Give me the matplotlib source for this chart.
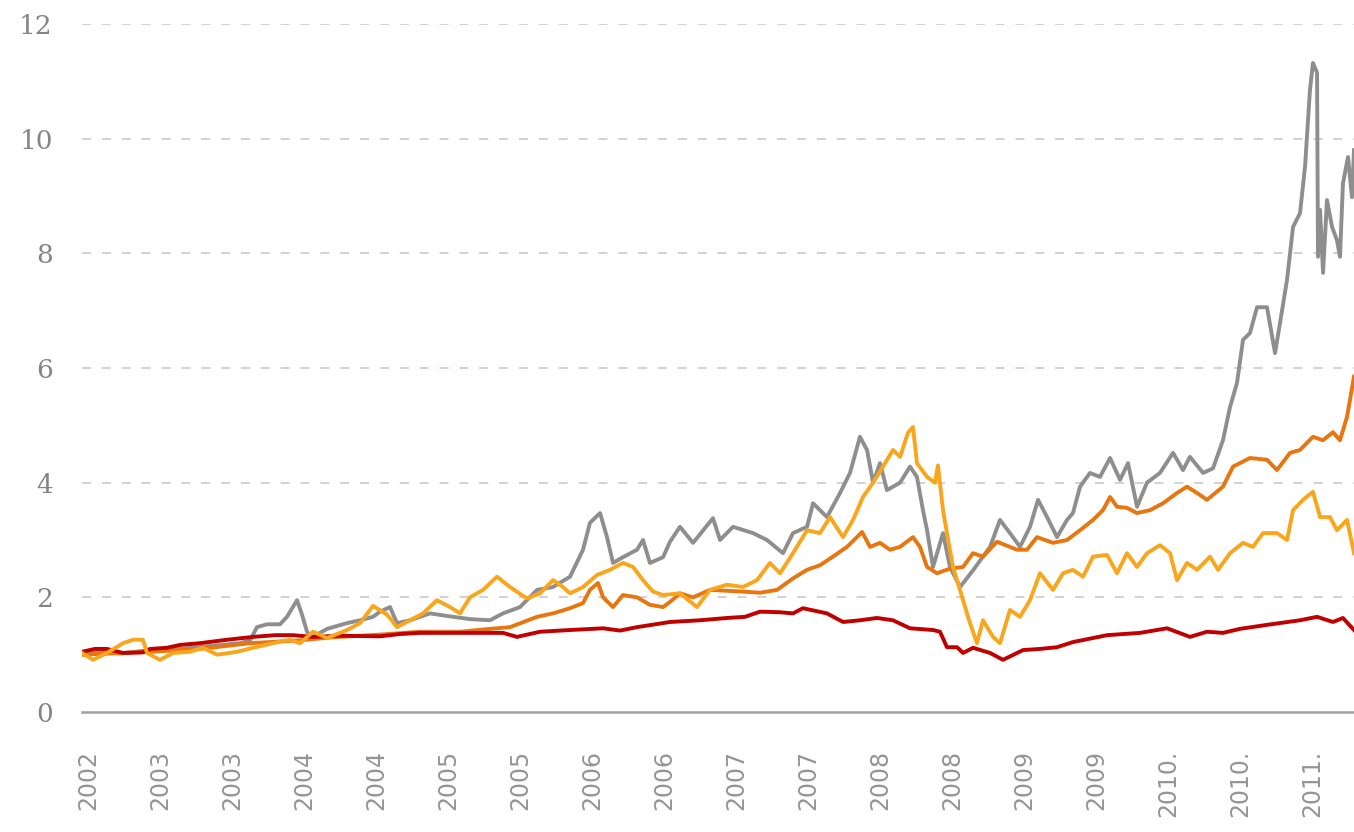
import matplotlib
matplotlib.use("Agg")
import matplotlib.pyplot as plt

# time axis: months since mid-June 2002
tick_months = [0.5 + 6 * k for k in range(18)]
tick_labels = ["2002", "2003", "2003", "2004", "2004", "2005", "2005", "2006", "2006",
               "2007", "2007", "2008", "2008", "2009", "2009", "2010.", "2010.", "2011."]

gray_t = [0, 1.5, 3.17, 5.67, 8.17, 10.67, 13.17, 14, 14.58, 15.42, 16.5, 17.08, 17.92, 18.33,
          18.75, 19.17, 20.42, 22.08, 23.17, 24.25, 24.83, 25.67, 26.25, 27.33, 29, 30.92, 32.33,
          34, 35.08, 36.5, 37.92, 39.25, 40.67, 41.75, 42.33, 43.17, 43.75, 44.25, 45.08, 46.25,
          46.75, 47.33, 48.42, 49, 49.83, 50.92, 52.58, 53.17, 54.25, 55.92, 57.08, 58.42, 59.25,
          60.42, 60.92, 62.08, 63.17, 64, 64.83, 65.42, 65.92, 66.5, 67.08, 68.17, 69, 69.58,
          70.08, 70.42, 70.92, 71.75, 72.33, 73.17, 74.25, 75.67, 76.5, 77.33, 78.17, 79, 79.67,
          80.42, 81.25, 82.08, 82.58, 83.17, 84, 84.83, 85.67, 86.5, 87.17, 87.92, 88.75, 89.83,
          90.92, 91.75, 92.33, 93.42, 94.25, 95.08, 95.67, 96.25, 96.75, 97.33, 97.92, 98.75,
          99.42, 99.83, 100.42, 100.92, 101.5, 101.92, 102.33, 102.58, 102.92, 103, 103.17,
          103.42, 103.75, 104.17, 104.58, 104.83, 105.08, 105.5, 105.83, 106]
gray_v = [1.0, 1.05, 1.02, 1.08, 1.10, 1.15, 1.20, 1.25, 1.48, 1.53, 1.53, 1.66, 1.95, 1.7,
          1.4, 1.3, 1.45, 1.55, 1.6, 1.66, 1.75, 1.83, 1.55, 1.6, 1.72, 1.66, 1.62,
          1.60, 1.72, 1.83, 2.13, 2.18, 2.36, 2.83, 3.3, 3.47, 3.05, 2.6, 2.7, 2.83,
          3.0, 2.6, 2.7, 2.97, 3.23, 2.95, 3.38, 3.0, 3.23, 3.12, 3.0, 2.77, 3.12,
          3.23, 3.64, 3.4, 3.82, 4.17, 4.8, 4.57, 4.0, 4.34, 3.87, 4.0, 4.28, 4.1,
          3.52, 3.17, 2.53, 3.12, 2.53, 2.18, 2.47, 2.88, 3.35, 3.12, 2.88, 3.23, 3.70,
          3.40, 3.05, 3.35, 3.47, 3.93, 4.17, 4.1, 4.43, 4.05, 4.34, 3.58, 4.0, 4.17,
          4.52, 4.22, 4.45, 4.17, 4.25, 4.74, 5.32, 5.74, 6.49, 6.61, 7.06, 7.06,
          6.26, 6.78, 7.54, 8.46, 8.70, 9.51, 10.85, 11.32, 11.15, 7.94, 8.76,
          7.66, 8.93, 8.46, 8.23, 7.94, 9.22, 9.68, 8.98, 9.8]

orange_t = [0, 5.67, 9.83, 14, 18.17, 20.67, 24.83, 28.17, 31.5, 34, 35.67, 37.92, 39.25, 40.67,
            41.75, 42.33, 43, 43.42, 44.25, 45.08, 46.25, 47.33, 48.42, 49, 49.83, 50.92, 52.33,
            55.08, 56.5, 57.92, 59.25, 60.42, 61.5, 62.58, 63.75, 64.58, 65, 65.67, 66.5, 67.33,
            68.17, 69.25, 69.83, 70.42, 71.25, 72.33, 73.42, 74.25, 75.08, 76.25, 77.92, 78.75,
            79.58, 80.92, 82.08, 83.17, 84.25, 85.08, 85.67, 86.25, 87.08, 87.92, 89, 90.08,
            91.25, 92.08, 92.92, 93.75, 95.08, 95.92, 97.33, 98.75, 99.58, 100.67, 101.5, 102.58,
            103.42, 104.25, 104.83, 105.42, 106]
orange_v = [1.0, 1.05, 1.1, 1.2, 1.25, 1.3, 1.35, 1.4, 1.4, 1.45, 1.48, 1.66, 1.72, 1.81,
            1.90, 2.13, 2.25, 2.0, 1.83, 2.04, 2.0, 1.87, 1.83, 1.92, 2.07, 2.0, 2.13,
            2.1, 2.08, 2.13, 2.33, 2.48, 2.56, 2.71, 2.88, 3.05, 3.14, 2.88, 2.95, 2.83,
            2.88, 3.05, 2.88, 2.53, 2.42, 2.5, 2.53, 2.77, 2.71, 2.97, 2.83, 2.83,
            3.05, 2.95, 3.0, 3.17, 3.35, 3.52, 3.75, 3.58, 3.56, 3.47, 3.52, 3.64,
            3.82, 3.93, 3.82, 3.70, 3.93, 4.28, 4.43, 4.40, 4.22, 4.52, 4.57, 4.80,
            4.74, 4.88, 4.74, 5.15, 5.85]

amber_t = [0, 0.92, 2.08, 3.42, 4.25, 5.08, 5.42, 6.5, 7.58, 9, 10.08, 11.25, 12.92, 14.25,
           15.92, 17.33, 18.17, 19.25, 20.42, 22.08, 23.17, 24.25, 25.42, 26.25, 27.33, 28.42,
           29.58, 30.67, 31.5, 32.33, 33.42, 34.58, 35.67, 37.08, 38.17, 39.25, 40.08, 40.67,
           41.75, 42.92, 44, 45.08, 45.92, 46.75, 47.58, 48.42, 49.83, 51.25, 52.33, 53.75,
           55.08, 56.25, 57.33, 58.17, 59.25, 60.42, 61.5, 62.33, 63.42, 64.25, 65.08, 65.92,
           66.75, 67.58, 68.17, 68.83, 69.25, 69.58, 70.42, 71.08, 71.33, 71.75, 72.08, 72.58,
           73.42, 74, 74.58, 75.08, 75.92, 76.5, 77.33, 78.17, 79, 79.83, 80.92, 81.75, 82.58,
           83.42, 84.25, 85.42, 86.25, 87.08, 87.92, 88.75, 89.83, 90.67, 91.25, 92.08, 92.92,
           94, 94.67, 95.67, 96.75, 97.58, 98.42, 99.58, 100.42, 100.92, 101.75, 102.58, 103.17,
           104, 104.58, 105.42, 106]
amber_v = [1.03, 0.91, 1.03, 1.2, 1.26, 1.26, 1.03, 0.91, 1.03, 1.05, 1.12, 1.0, 1.05, 1.12,
           1.2, 1.26, 1.2, 1.40, 1.29, 1.43, 1.55, 1.85, 1.70, 1.48, 1.6, 1.72,
           1.95, 1.83, 1.72, 2.0, 2.13, 2.36, 2.18, 1.98, 2.07, 2.30, 2.18, 2.07,
           2.18, 2.39, 2.48, 2.6, 2.53, 2.3, 2.1, 2.04, 2.07, 1.83, 2.13, 2.22,
           2.18, 2.30, 2.6, 2.42, 2.77, 3.17, 3.12, 3.40, 3.05, 3.35, 3.75, 4.0,
           4.28, 4.57, 4.45, 4.87, 4.97, 4.34, 4.1, 4.0, 4.3, 3.52, 3.12, 2.53,
           1.95, 1.55, 1.2, 1.6, 1.31, 1.2, 1.78, 1.66, 1.95, 2.42, 2.13, 2.42, 2.48,
           2.36, 2.71, 2.74, 2.42, 2.77, 2.53, 2.77, 2.91, 2.77, 2.30, 2.6, 2.48,
           2.71, 2.48, 2.77, 2.95, 2.88, 3.12, 3.12, 3.0, 3.52, 3.70, 3.84, 3.40,
           3.40, 3.17, 3.35, 2.77]

red_t = [0, 1.08, 2.08, 3.42, 5.08, 5.67, 7.08, 8.17, 9.83, 12.08, 14.25, 16.08, 17.58, 19.25,
         21.5, 24.83, 26.5, 28.17, 31.5, 35.08, 36.25, 38.17, 40.67, 43.42, 44.83, 46.25, 49,
         51.5, 53.75, 55.25, 56.5, 58.17, 59.25, 60.08, 62.08, 63.42, 64.83, 66.25, 67.58, 69,
         70.92, 71.5, 72.08, 72.92, 73.42, 74.25, 75.67, 76.75, 78.42, 79.83, 81.25, 82.58, 84,
         85.42, 88.17, 90.42, 92.33, 93.75, 95.08, 96.5, 98.75, 101.5, 102.92, 104.25, 105.08, 106]
red_v = [1.05, 1.10, 1.10, 1.03, 1.04, 1.10, 1.12, 1.17, 1.20, 1.26, 1.31, 1.34, 1.34, 1.31,
         1.33, 1.32, 1.36, 1.38, 1.38, 1.38, 1.31, 1.40, 1.43, 1.46, 1.42, 1.48, 1.57,
         1.60, 1.64, 1.66, 1.75, 1.74, 1.72, 1.81, 1.72, 1.57, 1.60, 1.64, 1.60, 1.46,
         1.43, 1.40, 1.13, 1.13, 1.03, 1.12, 1.03, 0.91, 1.08, 1.10, 1.13, 1.22, 1.28,
         1.34, 1.38, 1.46, 1.31, 1.40, 1.38, 1.45, 1.52, 1.60, 1.66, 1.57, 1.64, 1.43]

y_ticks = [0, 2, 4, 6, 8, 10, 12]

W, H = 1354, 832
fig = plt.figure(figsize=(W / 100, H / 100), dpi=100)
ax = fig.add_axes([82 / W, 1 - 712 / H, 1 - 82 / W, (712 - 24) / H])

lw = 2.8
ax.plot(gray_t, gray_v, color="#8E8E8E", lw=lw, zorder=3)
ax.plot(orange_t, orange_v, color="#E8760F", lw=lw, zorder=4)
ax.plot(red_t, red_v, color="#C00000", lw=lw, zorder=5)
ax.plot(amber_t, amber_v, color="#F9A61C", lw=lw, zorder=6)

ax.set_xlim(0, 106)
ax.set_ylim(0, 12)
ax.set_yticks(y_ticks)
ax.set_yticklabels([str(v) for v in y_ticks], family="DejaVu Serif", fontsize=19, color="#858585")
ax.set_xticks(tick_months)
ax.set_xticklabels(tick_labels, rotation=90, family="DejaVu Sans", fontsize=17,
                   color="#959595", va="top", ha="center")
ax.tick_params(axis="both", length=0)
ax.tick_params(axis="y", pad=21)
ax.tick_params(axis="x", pad=27)

for v in y_ticks[1:]:
    ax.axhline(v, color="#CFCFCF", lw=1.3, ls=(0, (5, 6)), zorder=1)

for s in ["top", "right", "left"]:
    ax.spines[s].set_visible(False)
ax.spines["bottom"].set_color("#A0A0A0")
ax.spines["bottom"].set_linewidth(1.8)
ax.set_facecolor("white")
fig.patch.set_facecolor("white")

fig.savefig("out.png", dpi=100)
